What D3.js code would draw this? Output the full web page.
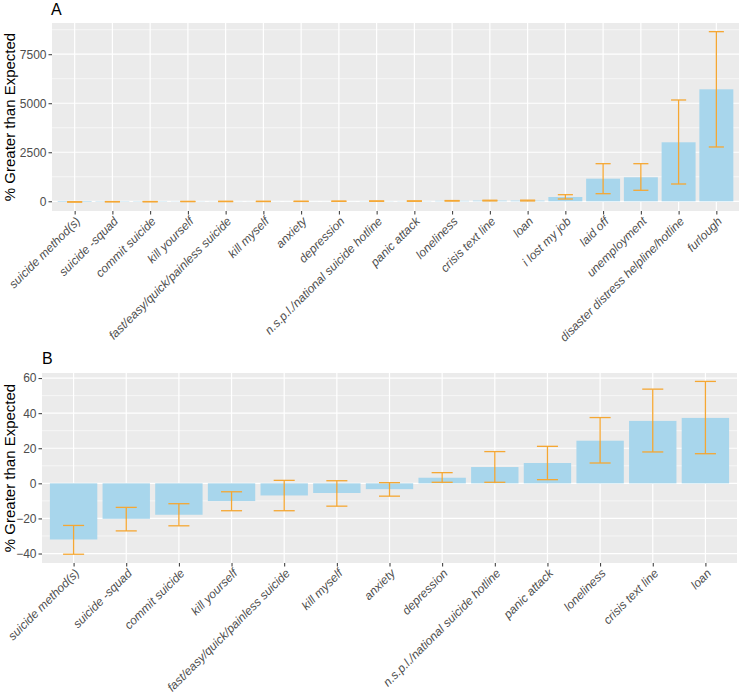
<!DOCTYPE html>
<html>
<head>
<meta charset="utf-8">
<script src="https://cdn.jsdelivr.net/npm/d3@7"></script>
<style>
  body { margin: 0; background: #fff; }
  svg { display: block; font-family: "Liberation Sans", Arial, sans-serif; }
</style>
</head>
<body>
<svg id="chart" width="740" height="696"></svg>
<script>
// ---- Data ----
const categoriesA = ["suicide method(s)", "suicide -squad", "commit suicide", "kill yourself",
  "fast/easy/quick/painless suicide", "kill myself", "anxiety", "depression",
  "n.s.p.l./national suicide hotline", "panic attack", "loneliness", "crisis text line",
  "loan", "i lost my job", "laid off", "unemployment", "disaster distress helpline/hotline", "furlough"];
const valuesA = [-32, -20.2, -17.9, -10.1, -6.9, -5.5, -3.3, 3.2, 9.3, 11.6, 24.3, 35.6, 37.3, 219, 1153, 1224, 3009, 5711];
const lowerA  = [-40.4, -27.1, -24.2, -15.6, -15.6, -13, -7.3, 0.6, 0.6, 2.1, 11.6, 17.9, 16.9, 117, 388, 561, 882, 2770];
const upperA  = [-24, -13.7, -11.6, -4.8, 1.7, 1.5, 0.4, 6.1, 18.1, 21.1, 37.5, 53.7, 58.1, 337, 1918, 1918, 5166, 8650];
const ticksA = [0, 2500, 5000, 7500];
const minorA = [1250, 3750, 6250, 8750];

const categoriesB = ["suicide method(s)", "suicide -squad", "commit suicide", "kill yourself",
  "fast/easy/quick/painless suicide", "kill myself", "anxiety", "depression",
  "n.s.p.l./national suicide hotline", "panic attack", "loneliness", "crisis text line", "loan"];
const valuesB = [-32, -20.2, -17.9, -10.1, -6.9, -5.5, -3.3, 3.2, 9.3, 11.6, 24.3, 35.6, 37.3];
const lowerB  = [-40.4, -27.1, -24.2, -15.6, -15.6, -13, -7.3, 0.6, 0.6, 2.1, 11.6, 17.9, 16.9];
const upperB  = [-24, -13.7, -11.6, -4.8, 1.7, 1.5, 0.4, 6.1, 18.1, 21.1, 37.5, 53.7, 58.1];
const ticksB = [-40, -20, 0, 20, 40, 60];
const minorB = [-30, -10, 10, 30, 50];

const svg = d3.select("#chart");
const barColor = "#A8D6EC";
const errColor = "#F5A733";

function drawPanel(o) {
  const g = svg.append("g");
  const step = (o.right - o.left) / (o.cats.length - 1 + 1.2);
  const x = d3.scalePoint().domain(o.cats)
    .range([o.left + step * 0.6, o.right - step * 0.6]);
  const y = d3.scaleLinear().domain(o.domain).range([o.bottom, o.top]);

  g.append("rect").attr("x", o.left).attr("y", o.top)
    .attr("width", o.right - o.left).attr("height", o.bottom - o.top).attr("fill", "#EBEBEB");
  g.selectAll(".mg").data(o.minor).enter().append("line")
    .attr("x1", o.left).attr("x2", o.right)
    .attr("y1", d => y(d)).attr("y2", d => y(d))
    .attr("stroke", "#fff").attr("stroke-width", 0.6);
  g.selectAll(".Mg").data(o.ticks).enter().append("line")
    .attr("x1", o.left).attr("x2", o.right)
    .attr("y1", d => y(d)).attr("y2", d => y(d))
    .attr("stroke", "#fff").attr("stroke-width", 1.2);
  g.selectAll(".Mx").data(o.cats).enter().append("line")
    .attr("x1", d => x(d)).attr("x2", d => x(d))
    .attr("y1", o.top).attr("y2", o.bottom)
    .attr("stroke", "#fff").attr("stroke-width", 1.2);

  const bw = step * 0.9;
  g.selectAll(".bar").data(o.vals).enter().append("rect")
    .attr("x", (d, i) => x(o.cats[i]) - bw / 2)
    .attr("width", bw)
    .attr("y", d => Math.min(y(d), y(0)))
    .attr("height", d => Math.abs(y(d) - y(0)))
    .attr("fill", barColor);

  const cw = step * 0.4;
  o.vals.forEach((v, i) => {
    const c = x(o.cats[i]);
    const eg = g.append("g").attr("stroke", errColor).attr("stroke-width", 1.3).attr("fill", "none");
    eg.append("line").attr("x1", c).attr("x2", c).attr("y1", y(o.lo[i])).attr("y2", y(o.hi[i]));
    eg.append("line").attr("x1", c - cw / 2).attr("x2", c + cw / 2).attr("y1", y(o.lo[i])).attr("y2", y(o.lo[i]));
    eg.append("line").attr("x1", c - cw / 2).attr("x2", c + cw / 2).attr("y1", y(o.hi[i])).attr("y2", y(o.hi[i]));
  });

  // y axis
  const ya = g.append("g").attr("transform", `translate(${o.left},0)`)
    .call(d3.axisLeft(y).tickValues(o.ticks).tickFormat(d3.format("d")).tickSize(3.5).tickPadding(2));
  ya.select(".domain").remove();
  ya.selectAll(".tick line").attr("stroke", "#333");
  ya.selectAll(".tick text").attr("font-size", 12).attr("fill", "#4D4D4D")
    .attr("font-family", "Liberation Sans, Arial, sans-serif");

  // x axis
  const xa = g.append("g").attr("transform", `translate(0,${o.bottom})`)
    .call(d3.axisBottom(x).tickSize(3.5).tickPadding(0));
  xa.select(".domain").remove();
  xa.selectAll(".tick line").attr("stroke", "#333");
  xa.selectAll(".tick text")
    .attr("font-size", 12).attr("font-style", "italic").attr("fill", "#4D4D4D")
    .attr("font-family", "Liberation Sans, Arial, sans-serif")
    .attr("text-anchor", "end").attr("y", 0).attr("dy", "0.7em")
    .attr("transform", "translate(0,5) rotate(-45)");

  g.append("text")
    .attr("transform", `translate(${o.titleX},${(o.top + o.bottom) / 2}) rotate(-90)`)
    .attr("text-anchor", "middle").attr("font-size", 15).attr("fill", "#000")
    .text("% Greater than Expected");

  g.append("text").attr("x", o.tagX).attr("y", o.tagY)
    .attr("font-size", 16).attr("fill", "#000").text(o.tag);
}

drawPanel({
  cats: categoriesA, vals: valuesA, lo: lowerA, hi: upperA,
  ticks: ticksA, minor: minorA,
  left: 52, right: 739, top: 23, bottom: 211,
  domain: [-495, 9092], titleX: 15, tag: "A", tagX: 51, tagY: 15
});

drawPanel({
  cats: categoriesB, vals: valuesB, lo: lowerB, hi: upperB,
  ticks: ticksB, minor: minorB,
  left: 42, right: 737, top: 373, bottom: 563,
  domain: [-45.4, 62.9], titleX: 15, tag: "B", tagX: 42, tagY: 364
});
</script>
</body>
</html>
